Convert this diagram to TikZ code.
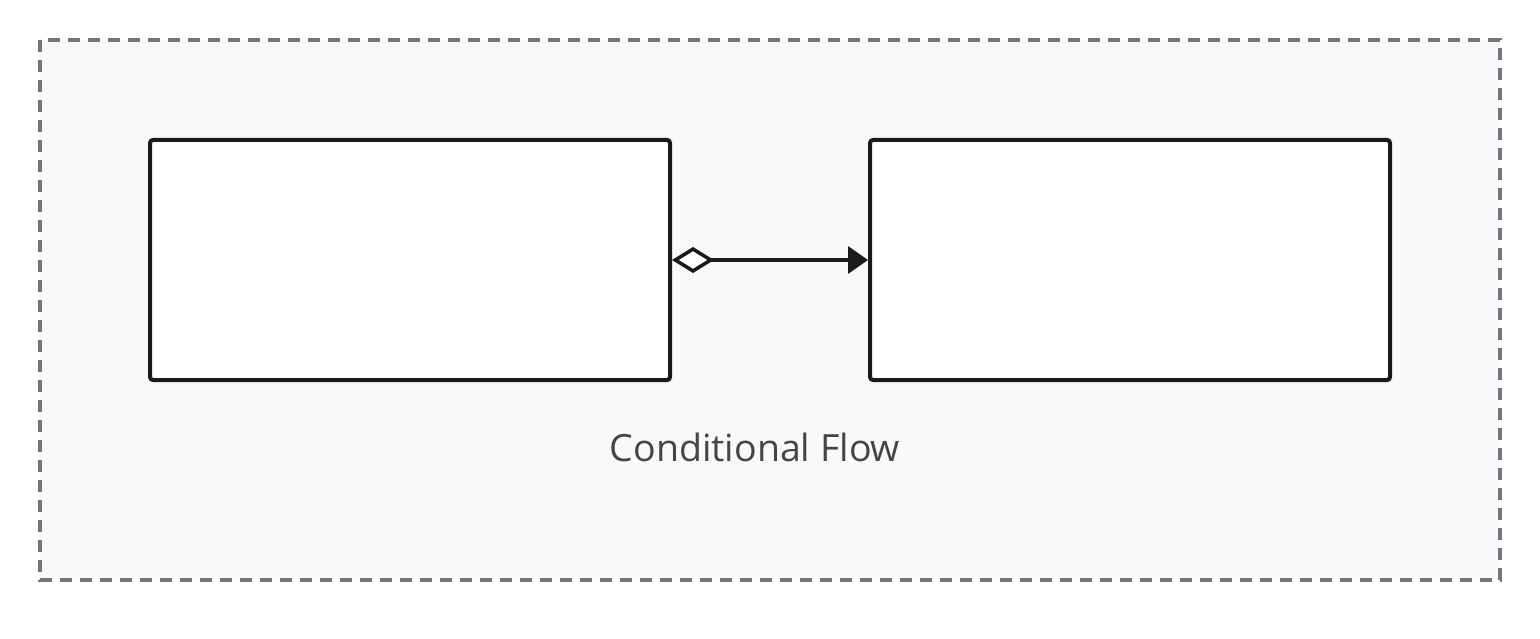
\documentclass[tikz,border=0pt]{standalone}
\usepackage{fontspec}
\setmainfont{Open Sans}
\usetikzlibrary{arrows.meta}
\definecolor{framegray}{HTML}{74757D}
\definecolor{framefill}{HTML}{F8F9FB}
\definecolor{textgray}{HTML}{454548}
\definecolor{ink}{HTML}{1A1A1A}
\tikzset{
  group/.style={draw=framegray, fill=framefill, line width=3.2pt, dash pattern=on 12pt off 8pt},
  box/.style={draw=ink, fill=white, line width=4pt, rounded corners=3pt, minimum width=520pt, minimum height=240pt, inner sep=0pt},
  flow/.style={draw=ink, line width=3.5pt, {Diamond[open, fill=white, length=42pt, width=26pt, line width=3.5pt]}-{Triangle[length=20pt, width=27pt]}},
  label/.style={text=textgray, font=\fontsize{37.5}{44}\selectfont}
}
\begin{document}
\begin{tikzpicture}[x=1pt, y=-1pt]
\useasboundingbox (0,0) rectangle (1540,639);
\draw[group] (40,40) rectangle (1500,580);
\node[box] (a) at (410,260) {};
\node[box] (b) at (1130,260) {};
\draw[flow] (a.east) -- (b.west);
\node[label] (t) at (755,447) {Conditional Flow};
\end{tikzpicture}
\end{document}
